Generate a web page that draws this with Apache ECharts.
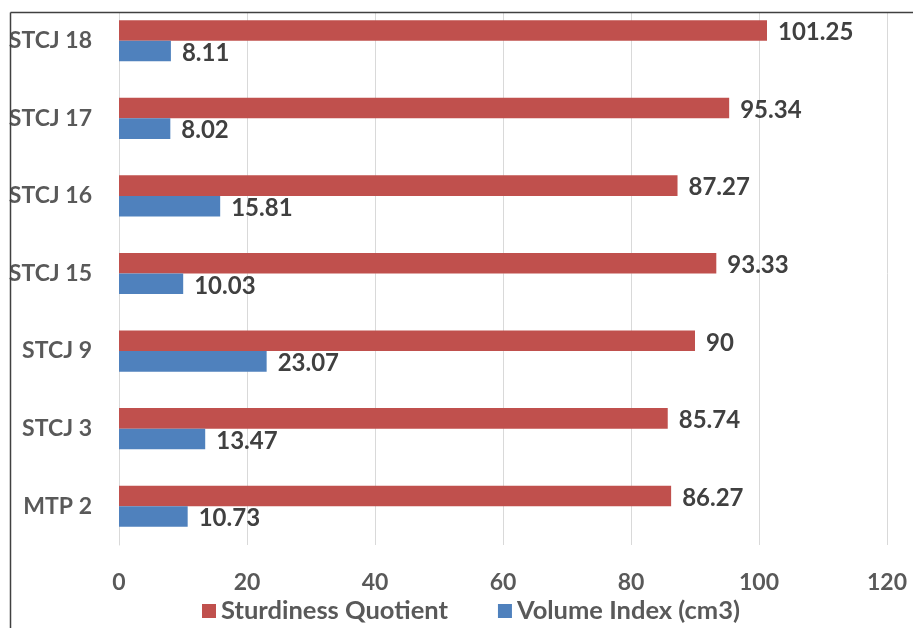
<!DOCTYPE html>
<html lang="en">
<head>
    <meta charset="UTF-8">
    <title>Sturdiness vs Volume</title>
    <script src="https://cdn.jsdelivr.net/npm/echarts@6.0.0/dist/echarts.min.js"></script>
    <style>
        body { margin: 0; padding: 0; background: #fff; }
        #chart { width: 913px; height: 628px; }
    </style>
</head>
<body>
    <div id="chart"></div>
    <script>
        // categories from bottom to top
        var categories = ['MTP 2', 'STCJ 3', 'STCJ 9', 'STCJ 15', 'STCJ 16', 'STCJ 17', 'STCJ 18'];
        var sturdiness = [86.27, 85.74, 90, 93.33, 87.27, 95.34, 101.25];
        var volume = [10.73, 13.47, 23.07, 10.03, 15.81, 8.02, 8.11];
        var xTicks = [0, 20, 40, 60, 80, 100, 120];

        var font = 'Lato, "Open Sans", sans-serif';
        var chart = echarts.init(document.getElementById('chart'));

        var labelStyle = {
            show: true,
            position: 'right',
            distance: 11,
            offset: [0, 2],
            color: '#404040',
            fontSize: 24,
            fontWeight: 'bold',
            fontFamily: font
        };

        chart.setOption({
            animation: false,
            grid: { left: 119, right: 26, top: 2, bottom: 83 },
            legend: {
                data: ['Sturdiness Quotient', 'Volume Index (cm3)'],
                left: 197,
                top: 593,
                itemWidth: 14,
                itemHeight: 14,
                itemGap: 50,
                icon: 'rect',
                textStyle: { color: '#595959', fontSize: 25.5, fontWeight: 'bold', fontFamily: font }
            },
            xAxis: {
                type: 'value',
                min: xTicks[0],
                max: xTicks[xTicks.length - 1],
                interval: 20,
                axisLine: { show: false },
                axisTick: { show: false },
                splitLine: { lineStyle: { color: '#d9d9d9', width: 1 } },
                axisLabel: { color: '#595959', fontSize: 23, fontWeight: 'bold', fontFamily: font, margin: 26 }
            },
            yAxis: {
                type: 'category',
                data: categories,
                axisLine: { show: true, lineStyle: { color: '#d9d9d9' } },
                axisTick: { show: false },
                axisLabel: { color: '#595959', fontSize: 23, fontWeight: 'bold', fontFamily: font, margin: 27 }
            },
            series: [
                {
                    name: 'Sturdiness Quotient',
                    type: 'bar',
                    data: sturdiness,
                    barGap: '0%',
                    barCategoryGap: '47%',
                    itemStyle: { color: '#C0504D' },
                    label: labelStyle
                },
                {
                    name: 'Volume Index (cm3)',
                    type: 'bar',
                    data: volume,
                    barGap: '0%',
                    barCategoryGap: '47%',
                    itemStyle: { color: '#4F81BD' },
                    label: labelStyle
                }
            ],
            graphic: [
                { type: 'rect', z: 100, shape: { x: 0, y: 0, width: 913, height: 12 }, style: { fill: '#fff' } },
                { type: 'line', z: 101, shape: { x1: 10.5, y1: 12.5, x2: 913, y2: 12.5 }, style: { stroke: '#404040', lineWidth: 1.5 } },
                { type: 'line', z: 101, shape: { x1: 10.5, y1: 12.5, x2: 10.5, y2: 628 }, style: { stroke: '#404040', lineWidth: 1.5 } }
            ]
        });

        window.addEventListener('resize', function () {
            chart.resize();
        });
    </script>
</body>
</html>
